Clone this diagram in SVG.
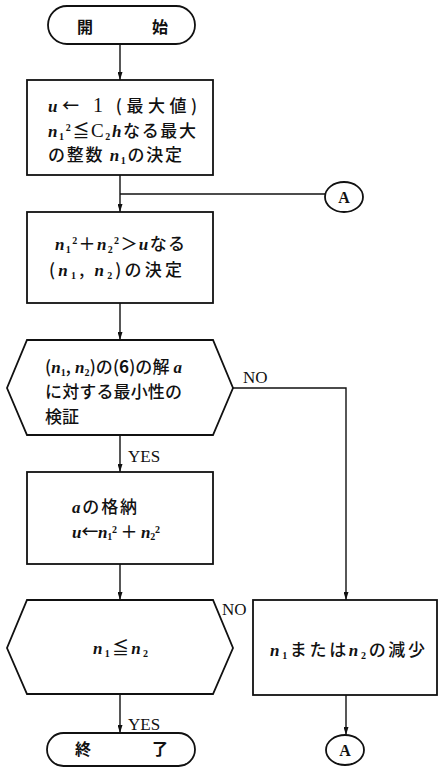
<svg xmlns="http://www.w3.org/2000/svg" width="438" height="768" viewBox="0 0 438 768">
<style>
.box{fill:#fff;stroke:#111;stroke-width:1.8}
.ln{fill:none;stroke:#111;stroke-width:1.4}
.t{font-family:"Noto Sans CJK JP","Noto Sans CJK SC",sans-serif;font-size:17px;fill:#111;font-weight:500}
.v{font-family:"Liberation Serif",serif;font-style:italic;font-weight:bold}
.r{font-family:"Liberation Serif",serif}
.s{font-size:10px;font-family:"Liberation Serif",serif;font-weight:bold}
.lbl{font-family:"Liberation Serif",serif;font-size:17px;fill:#111}
.term{font-family:"Noto Sans CJK JP",sans-serif;font-size:16px;font-weight:bold;fill:#111}
.ca{font-family:"Liberation Serif",serif;font-size:16px;font-weight:bold;fill:#111}
</style>
<defs>
<marker id="ah" markerUnits="userSpaceOnUse" markerWidth="9" markerHeight="5" refX="8" refY="2.5" orient="auto">
<path d="M0,0 L8,2.5 L0,5 z" fill="#111"/>
</marker>
</defs>

<g id="connectors">
<path class="ln" d="M120,44 V80" marker-end="url(#ah)"/>
<path class="ln" d="M120,175 V212" marker-end="url(#ah)"/>
<path class="ln" d="M325,194 H120"/>
<path class="ln" d="M120,303 V340" marker-end="url(#ah)"/>
<path class="ln" d="M233,388 H346 V600" marker-end="url(#ah)"/>
<path class="ln" d="M120,435 V472" marker-end="url(#ah)"/>
<path class="ln" d="M120,564 V600" marker-end="url(#ah)"/>
<path class="ln" d="M120,694 V733" marker-end="url(#ah)"/>
<path class="ln" d="M346,695 V735" marker-end="url(#ah)"/>
<text class="lbl" x="243" y="383">NO</text>
<text class="lbl" x="128" y="462">YES</text>
<text class="lbl" x="222" y="615">NO</text>
<text class="lbl" x="128" y="730">YES</text>
</g>

<g id="start">
<rect class="box" x="48" y="6" width="147" height="38" rx="19" ry="19"/>
<text class="term" x="77" y="33">開</text>
<text class="term" x="152" y="33">始</text>
</g>

<g id="init">
<rect class="box" x="27" y="80" width="186" height="95"/>
<text class="t" x="48" y="112" textLength="149" lengthAdjust="spacing"><tspan class="v">u</tspan>←<tspan class="r" font-size="20"> 1</tspan> (最大値)</text>
<text class="t" x="48" y="137" textLength="148" lengthAdjust="spacing"><tspan class="v">n</tspan><tspan class="s" dy="3">1</tspan><tspan class="s" dy="-9">2</tspan><tspan dy="6">≦</tspan><tspan class="r" font-size="19">C</tspan><tspan class="s" dy="3">2</tspan><tspan class="v" dy="-3">h</tspan>なる最大</text>
<text class="t" x="48" y="161" textLength="134" lengthAdjust="spacing">の整数 <tspan class="v">n</tspan><tspan class="s" dy="3">1</tspan><tspan dy="-3">の決定</tspan></text>
</g>

<g id="connA1">
<ellipse class="box" cx="344" cy="197" rx="19" ry="15"/>
<text class="ca" x="344" y="203" text-anchor="middle">A</text>
</g>

<g id="pair">
<rect class="box" x="27" y="212" width="186" height="91"/>
<text class="t" x="55" y="250" textLength="130" lengthAdjust="spacing"><tspan class="v">n</tspan><tspan class="s" dy="3">1</tspan><tspan class="s" dy="-9">2</tspan><tspan dy="6">＋</tspan><tspan class="v">n</tspan><tspan class="s" dy="3">2</tspan><tspan class="s" dy="-9">2</tspan><tspan dy="6">＞</tspan><tspan class="v">u</tspan>なる</text>
<text class="t" x="49" y="276" textLength="133" lengthAdjust="spacing">(<tspan class="v">n</tspan><tspan class="s" dy="3">1</tspan><tspan dy="-3">, </tspan><tspan class="v">n</tspan><tspan class="s" dy="3">2</tspan><tspan dy="-3">)の決定</tspan></text>
</g>

<g id="check">
<path class="box" d="M27,340 H213 L233,388 L213,435 H27 L7,388 Z"/>
<text class="t" x="45" y="373" textLength="137" lengthAdjust="spacing">(<tspan class="v">n</tspan><tspan class="s" dy="3">1</tspan><tspan dy="-3">, </tspan><tspan class="v">n</tspan><tspan class="s" dy="3">2</tspan><tspan dy="-3">)の(<tspan font-weight="bold">6</tspan>)の解 </tspan><tspan class="v">a</tspan></text>
<text class="t" x="45" y="398" textLength="137" lengthAdjust="spacing">に対する最小性の</text>
<text class="t" x="45" y="423">検証</text>
</g>

<g id="store">
<rect class="box" x="27" y="472" width="186" height="92"/>
<text class="t" x="72" y="513" textLength="65" lengthAdjust="spacing"><tspan class="v">a</tspan>の格納</text>
<text class="t" x="72" y="538" font-size="12" textLength="88" lengthAdjust="spacing"><tspan class="v">u</tspan>←<tspan class="v">n</tspan><tspan class="s" font-size="8" dy="2">1</tspan><tspan class="s" font-size="8" dy="-7">2</tspan><tspan dy="5"> ＋ </tspan><tspan class="v">n</tspan><tspan class="s" font-size="8" dy="2">2</tspan><tspan class="s" font-size="8" dy="-7">2</tspan></text>
</g>

<g id="compare">
<path class="box" d="M27,600 H213 L233,648 L213,694 H27 L7,648 Z"/>
<text class="t" x="93" y="654" textLength="55" lengthAdjust="spacing"><tspan class="v">n</tspan><tspan class="s" dy="3">1</tspan><tspan dy="-3">≦</tspan><tspan class="v">n</tspan><tspan class="s" dy="3">2</tspan></text>
</g>

<g id="decrease">
<rect class="box" x="253" y="600" width="184" height="95"/>
<text class="t" x="270" y="656" textLength="155" lengthAdjust="spacing"><tspan class="v">n</tspan><tspan class="s" dy="3">1</tspan><tspan dy="-3">または</tspan><tspan class="v">n</tspan><tspan class="s" dy="3">2</tspan><tspan dy="-3">の減少</tspan></text>
</g>

<g id="connA2">
<ellipse class="box" cx="345" cy="750" rx="19" ry="15"/>
<text class="ca" x="345" y="756" text-anchor="middle">A</text>
</g>

<g id="end">
<rect class="box" x="47" y="733" width="148" height="33" rx="16.5" ry="16.5"/>
<text class="term" x="75" y="755">終</text>
<text class="term" x="152" y="755">了</text>
</g>
</svg>
